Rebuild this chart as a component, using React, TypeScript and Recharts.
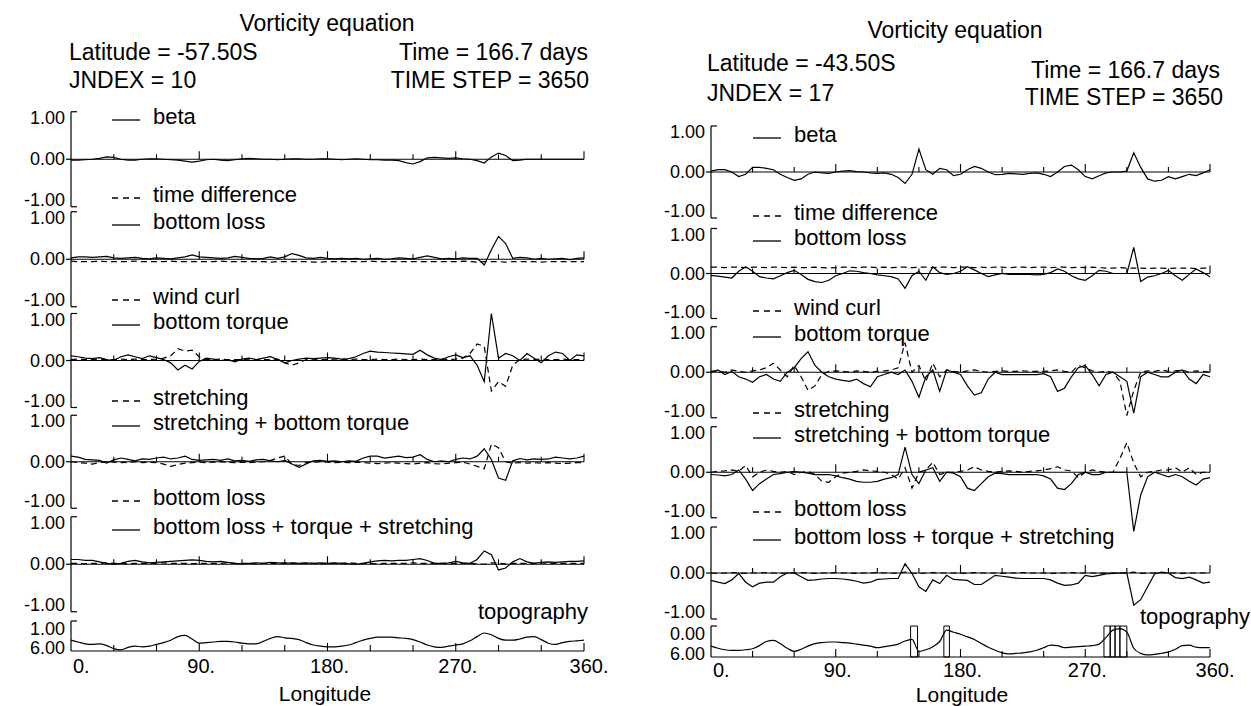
import { ComposedChart, Line, XAxis, YAxis, ReferenceLine, ReferenceArea } from "recharts";

const FONT = '"Liberation Sans", Arial, Helvetica, sans-serif';

// longitude grid, 5 degree steps
const lon = [
  0, 5, 10, 15, 20, 25, 30, 35, 40, 45, 50, 55,
  60, 65, 70, 75, 80, 85, 90, 95, 100, 105, 110, 115,
  120, 125, 130, 135, 140, 145, 150, 155, 160, 165, 170, 175,
  180, 185, 190, 195, 200, 205, 210, 215, 220, 225, 230, 235,
  240, 245, 250, 255, 260, 265, 270, 275, 280, 285, 290, 295,
  300, 305, 310, 315, 320, 325, 330, 335, 340, 345, 350, 355,
  360,
];

const xLabels = ["0.", "90.", "180.", "270.", "360."];
const xTicks = [0, 30, 60, 90, 120, 150, 180, 210, 240, 270, 300, 330, 360];
const yTicks = [-1, 0, 1];

// ---- left panel: latitude -57.50S ----
const betaL = [
  -0.02, -0.02, -0.01, 0, 0.02, 0.05, 0.04, 0, -0.02, -0.02, 0, 0.01,
  0.01, 0, -0.01, -0.02, -0.04, -0.06, -0.04, -0.01, 0, -0.02, -0.03, -0.01,
  0.01, 0.02, 0.01, 0, 0, -0.01, 0, 0.01, 0.01, 0, 0, 0.01,
  0.01, 0, -0.01, 0, 0.01, 0, -0.01, -0.01, -0.02, -0.02, -0.03, -0.07,
  -0.1, -0.05, 0.03, 0.04, 0.03, 0.02, 0.03, 0.01, 0, -0.03, -0.08, 0.05,
  0.13, 0.08, -0.03, -0.02, 0, 0, 0, 0, 0, 0, 0, 0,
  0,
];
const timeDiffL = [
  -0.04, -0.05, -0.05, -0.05, -0.04, -0.05, -0.05, -0.05, -0.05, -0.04, -0.05, -0.05,
  -0.05, -0.05, -0.04, -0.05, -0.05, -0.05, -0.05, -0.05, -0.05, -0.04, -0.05, -0.05,
  -0.05, -0.05, -0.05, -0.05, -0.06, -0.05, -0.05, -0.05, -0.05, -0.05, -0.06, -0.06,
  -0.05, -0.05, -0.05, -0.05, -0.05, -0.05, -0.04, -0.05, -0.05, -0.05, -0.05, -0.05,
  -0.05, -0.05, -0.05, -0.05, -0.05, -0.05, -0.05, -0.04, -0.05, -0.06, -0.05, -0.05,
  -0.05, -0.06, -0.05, -0.05, -0.05, -0.05, -0.06, -0.05, -0.05, -0.05, -0.05, -0.05,
  -0.05,
];
const bottomLossL = [
  0.03, 0.05, 0.05, 0.04, 0.05, 0.06, 0.03, 0.02, 0.03, 0.04, 0.02, 0.01,
  0.03, 0.02, 0.01, 0.03, 0.05, 0.09, 0.05, 0.04, 0.03, 0.02, 0.03, 0.06,
  0.04, 0.02, 0.01, 0.02, 0.05, 0.02, 0.05, 0.12, 0.08, 0.03, 0.02, 0.04,
  0.02, 0.01, 0.02, 0.01, 0.02, 0, 0.01, 0.02, 0, 0.01, 0.03, 0.02,
  0.01, 0.04, 0.07, 0.04, 0.01, 0.02, 0.01, 0.03, 0.02, 0.02, -0.12, 0.2,
  0.48, 0.33, 0.02, 0.04, 0.03, 0, 0.02, 0, 0.01, 0.02, -0.01, 0.02,
  0.03,
];
const windCurlL = [
  0.02, 0.03, 0.02, 0.02, 0.03, 0.02, 0.02, 0.03, 0.02, 0.03, 0.02, 0.02,
  0.03, 0.05, 0.1, 0.25, 0.2, 0.22, 0.08, 0.02, 0.02, 0.03, 0.02, 0.02,
  0.02, 0.03, 0.02, 0.02, 0.02, 0.03, -0.05, -0.1, -0.05, 0.02, 0.03, 0.02,
  0.02, 0.03, 0.02, 0.02, 0.03, 0.02, 0.02, 0.03, 0.02, 0.02, 0.03, 0.02,
  0.02, 0.03, 0.02, 0.02, 0.03, 0.02, 0.03, 0.05, 0.15, 0.35, 0.3, -0.65,
  -0.45, -0.55, -0.1, 0.02, 0.03, 0.02, 0.03, 0.02, 0.02, 0.03, 0.02, 0.02,
  0.02,
];
const bottomTorqueL = [
  0.1, 0.08, 0.05, 0.04, 0.06, 0.02, 0, 0.08, 0.12, 0.08, 0.04, 0.1,
  0.06, 0.02, -0.05, -0.2, -0.1, -0.18, -0.02, 0.05, 0.03, 0, 0.02, -0.03,
  0.03, 0.05, 0.02, 0.05, 0.08, 0.02, -0.05, 0, 0.03, 0.05, 0.04, 0.05,
  0.06, 0.05, 0.03, 0.04, 0.08, 0.15, 0.2, 0.18, 0.17, 0.16, 0.15, 0.14,
  0.13, 0.22, 0.12, 0.05, 0.02, 0.08, 0.12, 0.06, 0.1, -0.1, -0.45, 1.0,
  0.05, 0.15, 0.1, 0, 0.15, 0.05, -0.05, 0.1, 0.18, 0.15, 0, 0.12,
  0.1,
];
const stretchL = [
  0, -0.02, -0.03, -0.05, -0.02, 0, -0.01, -0.02, -0.01, 0, -0.02, -0.01,
  -0.02, -0.05, -0.1, -0.06, -0.03, -0.02, -0.01, -0.02, -0.01, 0, -0.01, -0.02,
  -0.01, -0.02, -0.01, 0, 0.03, 0.08, 0.12, -0.05, -0.08, -0.02, -0.01, 0,
  -0.01, -0.02, -0.01, -0.02, -0.01, -0.02, -0.03, -0.04, -0.03, -0.02, -0.03, -0.04,
  -0.05, -0.03, -0.02, -0.04, -0.05, -0.03, -0.02, -0.01, -0.05, -0.1, -0.15, 0.38,
  0.3, 0, -0.03, -0.02, -0.03, -0.02, -0.03, -0.02, -0.03, -0.04, -0.03, -0.02,
  -0.02,
];
const stretchTorqueL = [
  0.12, 0.1, 0.05, 0.04, 0.03, -0.03, 0.04, 0.08, 0.05, 0.02, 0.06, 0.05,
  0.08, 0.1, 0.06, 0.08, 0.12, 0.05, 0.03, 0.04, 0.05, 0.03, 0.06, 0.02,
  0.03, 0.01, 0.04, 0.05, 0.02, 0, 0.03, -0.05, -0.12, -0.05, 0.02, 0.03,
  0.01, 0.02, 0, 0.02, 0.01, 0.08, 0.12, 0.12, 0.08, 0.1, 0.12, 0.09,
  0.1, 0.15, 0.05, 0, 0.02, 0, 0.05, 0.08, 0.06, 0.12, 0.28, 0.05,
  -0.35, -0.4, 0.02, 0.07, 0.04, 0.06, 0.05, 0.06, 0.1, 0.08, 0.06, 0.08,
  0.12,
];
const lossDashL = [
  0.02, 0.02, 0.01, 0.02, 0.02, 0.03, 0.02, 0.02, 0.01, 0.02, 0.02, 0.02,
  0.02, 0.03, 0.02, 0.02, 0.02, 0.01, 0.02, 0.02, 0.02, 0.02, 0.03, 0.02,
  0.02, 0.02, 0.01, 0.02, 0.02, 0.02, 0.03, 0.02, 0.02, 0.02, 0.02, 0.01,
  0.02, 0.02, 0.02, 0.03, 0.02, 0.02, 0.02, 0.01, 0.02, 0.02, 0.02, 0.02,
  0.03, 0.02, 0.02, 0.02, 0.02, 0.01, 0.02, 0.02, 0.02, 0.01, 0.0, 0.03,
  0.02, 0.01, 0.02, 0.02, 0.02, 0.02, 0.03, 0.02, 0.02, 0.02, 0.02, 0.02,
  0.02,
];
const sumL = [
  0.1, 0.1, 0.08, 0.08, 0.05, 0.02, 0, 0.02, 0.06, 0.08, 0.05, 0.03,
  0.04, 0.05, 0.06, 0.07, 0.08, 0.09, 0.08, 0.06, 0.05, 0.06, 0.04, 0.02,
  0.01, 0.02, 0.03, 0.02, 0.04, 0.03, 0.02, 0.03, 0.02, 0.03, 0.02, 0.03,
  0.02, 0.03, 0.02, 0.01, 0, 0.02, 0.05, 0.07, 0.08, 0.07, 0.08, 0.08,
  0.1, 0.12, 0.08, 0.02, 0.02, 0.03, 0.06, 0.03, 0.02, 0.1, 0.28, 0.2,
  -0.12, -0.08, 0.05, 0.12, 0.05, 0.02, 0.04, 0.05, 0.04, 0.05, 0.06, 0.06,
  0.07,
];
const topoL = [
  4.2, 4.5, 4.8, 4.9, 4.8, 5.1, 5.6, 5.8, 5.4, 5.2, 5.3, 5.2,
  4.9, 4.6, 4.2, 3.6, 3.4, 4.0, 4.7, 4.6, 4.5, 4.4, 4.4, 4.5,
  4.7, 4.8, 4.8, 4.4, 3.9, 3.6, 3.8, 3.9, 4.1, 4.6, 5.0, 5.2,
  5.3, 5.3, 5.2, 5.0, 4.6, 4.2, 3.9, 3.7, 3.7, 3.7, 3.8, 3.9,
  4.1, 4.5, 5.0, 5.3, 5.4, 5.2, 5.0, 4.8, 4.3, 3.6, 3.0, 3.3,
  3.9, 4.2, 4.2, 4.0, 3.7, 3.6, 4.1, 4.7, 4.9, 4.6, 4.4, 4.3,
  4.2,
];

// ---- right panel: latitude -43.50S ----
const betaR = [
  0.02, 0.05, 0.05, 0, -0.1, -0.05, 0.1, 0.1, 0.08, 0.05, -0.05, -0.12,
  -0.18, -0.15, -0.05, 0, -0.02, -0.03, 0, 0.02, 0.03, 0.01, 0, -0.02,
  -0.03, -0.02, -0.05, -0.12, -0.25, -0.05, 0.5, 0.05, -0.05, 0.08, 0.05, -0.08,
  -0.05, 0.05, 0.12, 0.08, 0, -0.06, -0.05, -0.03, -0.04, -0.05, -0.03, -0.02,
  -0.05, -0.1, 0, 0.12, 0.15, 0.05, -0.1, -0.15, -0.08, -0.02, 0, 0,
  0.02, 0.42, 0.1, -0.15, -0.2, -0.18, -0.1, -0.15, -0.1, -0.05, -0.08, -0.02,
  0.05,
];
const timeDiffR = [
  0.14, 0.14, 0.13, 0.14, 0.14, 0.13, 0.14, 0.14, 0.13, 0.14, 0.14, 0.13,
  0.14, 0.13, 0.13, 0.14, 0.13, 0.12, 0.13, 0.14, 0.14, 0.13, 0.14, 0.14,
  0.13, 0.14, 0.13, 0.14, 0.14, 0.13, 0.14, 0.14, 0.13, 0.14, 0.14, 0.13,
  0.14, 0.14, 0.13, 0.14, 0.13, 0.14, 0.14, 0.13, 0.14, 0.14, 0.13, 0.14,
  0.14, 0.13, 0.14, 0.14, 0.13, 0.14, 0.13, 0.14, 0.13, 0.12, 0.12, 0.13,
  0.12, 0.12, 0.12, 0.11, 0.12, 0.12, 0.11, 0.12, 0.12, 0.12, 0.11, 0.12,
  0.12,
];
const bottomLossR = [
  -0.04, -0.06, -0.08, -0.1, 0.05, 0.15, 0.05, -0.07, -0.1, -0.12, -0.05, 0.02,
  0.07, -0.02, -0.13, -0.18, -0.2, -0.15, -0.05, 0, 0.06, 0.05, 0.02, 0,
  -0.03, -0.05, -0.07, -0.12, -0.33, -0.05, 0.05, -0.15, 0.15, 0.02, -0.02, 0,
  0.05, 0.15, 0.08, 0, -0.07, -0.03, 0, -0.02, -0.02, -0.02, -0.02, -0.03,
  -0.02, 0.02, 0.1, 0.05, -0.05, -0.12, -0.15, -0.05, 0.07, 0.05, 0, 0,
  0, 0.58, -0.18, -0.08, -0.05, 0, 0.07, -0.05, -0.15, -0.02, 0.1, 0.02,
  -0.07,
];
const windCurlR = [
  0.02, 0.03, 0, 0.05, 0.02, 0, 0.03, 0.05, 0.1, 0.2, 0.05, -0.1,
  0.15, -0.1, -0.4, -0.3, -0.05, 0.02, 0.03, 0.02, 0, 0.03, 0.02, 0,
  0.02, 0.03, 0.05, 0.1, 0.65, 0, 0.15, -0.2, 0.2, -0.1, 0.05, 0.02,
  0, 0.03, 0.05, 0.02, 0, 0.02, 0.03, 0.02, 0.02, 0.03, 0.02, 0.02,
  0.02, 0.03, 0.05, 0.02, 0, 0.15, 0.1, 0.03, 0, 0.02, 0, -0.2,
  -0.95, -0.4, 0, 0.03, 0.02, 0.05, 0.02, 0.03, 0.05, 0, 0.03, 0.02,
  0,
];
const bottomTorqueR = [
  0, 0.05, -0.05, 0.02, -0.1, -0.15, -0.22, -0.1, -0.05, -0.15, -0.2, 0,
  0.1, 0.3, 0.45, 0.15, 0, -0.1, -0.15, -0.18, -0.2, -0.15, -0.25, -0.32,
  -0.1, -0.05, 0, -0.05, 0.05, -0.2, -0.55, -0.1, 0.05, -0.42, 0.05, 0,
  -0.05, -0.3, -0.5, -0.45, -0.15, 0, -0.05, -0.05, -0.05, -0.05, -0.05, -0.05,
  -0.03, -0.1, -0.42, -0.35, -0.1, 0.1, 0.15, -0.05, -0.3, -0.05, 0, -0.1,
  -0.2, -0.9, -0.1, 0, -0.05, -0.1, -0.1, 0, 0.05, -0.15, -0.25, -0.05,
  -0.1,
];
const stretchR = [
  0, 0.02, 0.03, 0.05, 0.02, 0.15, -0.1, 0, 0.05, 0.02, 0, 0.02,
  -0.05, 0, 0.02, -0.05, -0.2, -0.22, -0.1, -0.02, 0, 0.02, 0.05, 0.03,
  0.02, 0, -0.05, -0.15, 0.1, -0.35, 0, 0.05, 0.22, -0.05, 0, 0,
  0.02, 0.05, 0.12, 0.05, 0.02, 0, 0.02, 0.03, 0.02, 0, 0.02, 0.03,
  0.05, 0.08, 0.12, 0.05, 0.03, -0.12, 0, 0.05, 0.02, 0, 0, 0.3,
  0.65, 0.2, -0.1, 0, 0.02, 0.05, 0.05, 0.1, 0, 0.1, -0.05, 0,
  0,
];
const stretchTorqueR = [
  -0.05, -0.06, -0.08, -0.05, 0.05, -0.15, -0.4, -0.25, -0.15, -0.05, -0.03, 0,
  0.02, 0, -0.02, -0.05, -0.05, -0.05, -0.08, -0.12, -0.15, -0.2, -0.22, -0.22,
  -0.2, -0.15, -0.12, -0.05, 0.55, -0.05, -0.25, 0.05, 0.1, -0.2, 0, -0.02,
  -0.1, -0.35, -0.4, -0.25, -0.1, -0.02, -0.03, -0.05, -0.05, -0.05, -0.05, -0.05,
  -0.08, -0.15, -0.35, -0.38, -0.25, -0.05, 0, -0.05, -0.05, 0, 0, 0,
  0, -1.3, -0.5, -0.1, 0, -0.05, -0.1, -0.05, -0.1, -0.2, -0.28, -0.15,
  -0.12,
];
const lossDashR = [
  0, -0.01, 0, 0.01, 0, -0.01, 0, 0, 0.01, 0, -0.01, 0,
  0, 0.01, 0, -0.01, 0, 0, 0.01, 0, 0, -0.01, 0, 0,
  0.01, 0, 0, -0.01, 0.02, 0, -0.01, 0, 0.01, 0, 0, 0,
  -0.01, 0, 0.01, 0, 0, 0, -0.01, 0, 0, 0.01, 0, 0,
  0, -0.01, 0, 0, 0.01, 0, 0, 0, -0.01, 0, 0, 0,
  0, 0.02, -0.01, 0, 0, 0.01, 0, 0, -0.01, 0, 0, 0,
  0,
];
const sumR = [
  -0.16, -0.2, -0.23, -0.15, -0.01, -0.2, -0.3, -0.22, -0.2, -0.2, -0.08, 0,
  0, -0.08, -0.16, -0.15, -0.13, -0.12, -0.12, -0.13, -0.15, -0.18, -0.22, -0.2,
  -0.14, -0.13, -0.12, -0.12, 0.2, -0.01, -0.3, -0.4, -0.15, -0.23, -0.05, -0.14,
  -0.15, -0.16, -0.25, -0.25, -0.15, -0.05, -0.07, -0.09, -0.11, -0.12, -0.12, -0.12,
  -0.12, -0.15, -0.22, -0.27, -0.26, -0.22, -0.05, -0.08, -0.05, -0.02, -0.01, 0,
  0, -0.7, -0.58, -0.3, -0.02, 0.02, 0, -0.1, -0.12, -0.09, -0.15, -0.22,
  -0.2,
];
const topoR = [
  3.9, 4.3, 4.6, 4.7, 4.7, 4.6, 4.4, 3.8, 3.0, 2.8, 3.4, 4.3,
  4.9, 4.5, 3.9, 3.4, 3.2, 3.1, 3.1, 3.2, 3.3, 3.5, 3.7, 3.9,
  4.2, 4.0, 3.8, 3.5, 2.9, 2.6, 4.9, 4.6, 4.0, 3.0, 0.8, 1.2,
  1.6, 2.1, 2.6, 3.4, 4.1, 4.7, 5.2, 5.4, 5.3, 5.2, 5.0, 4.7,
  4.2, 3.7, 3.8, 4.2, 4.1, 4.0, 3.9, 3.8, 3.5, 2.2, 0.8, 0.5,
  1.2, 4.3, 5.3, 5.6, 5.5, 5.3, 5.0, 4.5, 3.8, 3.7, 4.1, 4.2,
  4.2,
];
// ridge cells drawn as boxes in the right topography strip (longitude from, to)
const ridgeR: [number, number][] = [
  [144, 149], [168, 172], [283.5, 288], [288, 291.5], [291.5, 295], [295, 300],
];

const D = 1.5;
const PAD_R = 34;

function Txt({ x, y, a = "start", s = 22, children }: any) {
  const tx = a === "middle" ? "-50%" : a === "end" ? "-100%" : "0";
  return (
    <div
      style={{
        position: "absolute",
        left: x,
        top: y,
        transform: `translate(${tx}, -50%)`,
        fontSize: s,
        lineHeight: 1,
        whiteSpace: "nowrap",
        fontFamily: FONT,
        color: "#000",
      }}
    >
      {children}
    </div>
  );
}

function Leg({ x, y, dashed, text }: any) {
  return (
    <>
      <svg style={{ position: "absolute", left: x, top: y + 1 }} width={30} height={4}>
        <line x1={0} y1={2} x2={28} y2={2} stroke="#000" strokeWidth={1.3} strokeDasharray={dashed ? "6 5" : undefined} />
      </svg>
      <Txt x={x + 41} y={y}>{text}</Txt>
    </>
  );
}

function Sub({ left, x0, x1, top, bottom, solid, dashed }: any) {
  const ppu = (bottom - top) / 2;
  const ppx = (x1 - x0) / 360;
  const h = 2 * D * ppu;
  const chartTop = top - (D - 1) * ppu;
  const axisX = x0 - left;
  const data = lon.map((l, i) => ({ lon: l, s: solid[i], d: dashed ? dashed[i] : null }));
  const bk = 6 / ppx;
  const tick = (p: any) => {
    const v = p.payload.value;
    const dy = v === 1 ? 6 : v === -1 ? -7 : 0;
    return (
      <g>
        <text x={axisX - 6} y={p.y + dy} textAnchor="end" dominantBaseline="central" fontSize={18} fontFamily={FONT} fill="#000">
          {v.toFixed(2)}
        </text>
        {v === 0 && <line x1={axisX - 5} x2={axisX} y1={p.y} y2={p.y} stroke="#000" strokeWidth={1.2} />}
      </g>
    );
  };
  return (
    <div style={{ position: "absolute", left, top: chartTop }}>
      <ComposedChart width={x1 - left + PAD_R} height={h} data={data} margin={{ top: 0, right: PAD_R, bottom: 0, left: 0 }}>
        <XAxis type="number" dataKey="lon" domain={[0, 360]} hide />
        <YAxis type="number" domain={[-D, D]} ticks={yTicks} interval={0} width={axisX} axisLine={false} tickLine={false} tick={tick} />
        <ReferenceLine y={0} stroke="#000" strokeWidth={1.2} />
        <ReferenceLine segment={[{ x: 0, y: -1 }, { x: 0, y: 1 }]} stroke="#000" strokeWidth={1.2} />
        <ReferenceLine segment={[{ x: 0, y: 1 }, { x: bk, y: 1 }]} stroke="#000" strokeWidth={1.2} />
        <ReferenceLine segment={[{ x: 0, y: -1 }, { x: bk, y: -1 }]} stroke="#000" strokeWidth={1.2} />
        {xTicks.slice(1).map((t) => (
          <ReferenceLine
            key={t}
            segment={[{ x: t, y: 0 }, { x: t, y: (t % 90 === 0 ? 8 : 5) / ppu }]}
            stroke="#000"
            strokeWidth={1.1}
          />
        ))}
        {dashed && (
          <Line dataKey="d" type="linear" stroke="#000" strokeWidth={1.2} strokeDasharray="6 4" dot={false} isAnimationActive={false} />
        )}
        <Line dataKey="s" type="linear" stroke="#000" strokeWidth={1.2} dot={false} isAnimationActive={false} />
      </ComposedChart>
    </div>
  );
}

function Topo({ left, x0, x1, top, bottom, lo, values, ridges, labY }: any) {
  const plotH = bottom - top;
  const padT = 12;
  const axisH = 60;
  const axisX = x0 - left;
  const data = lon.map((l, i) => ({ lon: l, t: values[i] }));
  const yTick = (p: any) => {
    const v = p.payload.value;
    const isTop = v === lo;
    return (
      <g>
        <text x={axisX - 6} y={p.y + (isTop ? 8 : -3)} textAnchor="end" dominantBaseline="central" fontSize={18} fontFamily={FONT} fill="#000">
          {v.toFixed(2)}
        </text>
        {isTop && <line x1={axisX} x2={axisX + 6} y1={p.y} y2={p.y} stroke="#000" strokeWidth={1.2} />}
      </g>
    );
  };
  const axisY = padT + plotH;
  const xTick = (p: any) => {
    const v = p.payload.value;
    const major = v % 90 === 0;
    const lab = major ? xLabels[v / 90] : null;
    const dx = v === 0 ? 2 : v === 360 ? 5 : 2;
    return (
      <g>
        {v > 0 && <line x1={p.x} x2={p.x} y1={axisY} y2={axisY - (major ? 8 : 6)} stroke="#000" strokeWidth={1.1} />}
        {lab && (
          <text x={p.x + dx} y={axisY + labY} textAnchor={v === 0 ? "start" : "middle"} dominantBaseline="central" fontSize={20} fontFamily={FONT} fill="#000">
            {lab}
          </text>
        )}
      </g>
    );
  };
  return (
    <div style={{ position: "absolute", left, top: top - padT }}>
      <ComposedChart width={x1 - left + PAD_R} height={padT + plotH + axisH} data={data} margin={{ top: padT, right: PAD_R, bottom: 0, left: 0 }}>
        <XAxis
          type="number"
          dataKey="lon"
          domain={[0, 360]}
          ticks={xTicks}
          interval={0}
          height={axisH}
          tickLine={false}
          axisLine={{ stroke: "#000", strokeWidth: 1.2 }}
          tick={xTick}
        />
        <YAxis
          type="number"
          domain={[lo, 6]}
          reversed
          ticks={[lo, 6]}
          interval={0}
          width={axisX}
          tickLine={false}
          axisLine={{ stroke: "#000", strokeWidth: 1.2 }}
          tick={yTick}
        />
        {ridges.map((r: [number, number], i: number) => (
          <ReferenceArea key={i} x1={r[0]} x2={r[1]} y1={lo} y2={6} fill="none" stroke="#000" strokeWidth={1} />
        ))}
        <Line dataKey="t" type="monotone" stroke="#000" strokeWidth={1.2} dot={false} isAnimationActive={false} />
      </ComposedChart>
    </div>
  );
}

const L = { left: 0, x0: 71, x1: 584 };
const R = { left: 640, x0: 711, x1: 1210 };

export default function App() {
  return (
    <div style={{ position: "absolute", left: 0, top: 0, width: 1251, height: 706, background: "#fff", overflow: "hidden" }}>
      {/* left panel */}
      <Txt x={327} y={23} a="middle" s={23}>Vorticity equation</Txt>
      <Txt x={69} y={52} s={23}>Latitude = -57.50S</Txt>
      <Txt x={69} y={80} s={23}>JNDEX = 10</Txt>
      <Txt x={588} y={52} a="end" s={23}>Time = 166.7 days</Txt>
      <Txt x={589} y={80} a="end" s={23}>TIME STEP = 3650</Txt>

      <Sub {...L} top={112} bottom={207} solid={betaL} />
      <Sub {...L} top={212} bottom={307} solid={bottomLossL} dashed={timeDiffL} />
      <Sub {...L} top={313} bottom={407} solid={bottomTorqueL} dashed={windCurlL} />
      <Sub {...L} top={415} bottom={508} solid={stretchTorqueL} dashed={stretchL} />
      <Sub {...L} top={517} bottom={612} solid={sumL} dashed={lossDashL} />
      <Topo {...L} top={621} bottom={651} lo={1} values={topoL} ridges={[]} labY={15} />

      <Leg x={112} y={117} text="beta" />
      <Leg x={112} y={195} dashed text="time difference" />
      <Leg x={112} y={222} text="bottom loss" />
      <Leg x={112} y={297} dashed text="wind curl" />
      <Leg x={112} y={322} text="bottom torque" />
      <Leg x={112} y={398} dashed text="stretching" />
      <Leg x={112} y={423} text="stretching + bottom torque" />
      <Leg x={112} y={498} dashed text="bottom loss" />
      <Leg x={112} y={527} text="bottom loss + torque + stretching" />
      <Txt x={588} y={612} a="end">topography</Txt>
      <Txt x={325} y={693} a="middle" s={21}>Longitude</Txt>

      {/* right panel */}
      <Txt x={955} y={30} a="middle" s={23}>Vorticity equation</Txt>
      <Txt x={707} y={63} s={23}>Latitude = -43.50S</Txt>
      <Txt x={707} y={93} s={23}>JNDEX = 17</Txt>
      <Txt x={1220} y={70} a="end" s={23}>Time = 166.7 days</Txt>
      <Txt x={1223} y={97} a="end" s={23}>TIME STEP = 3650</Txt>

      <Sub {...R} top={126} bottom={218} solid={betaR} />
      <Sub {...R} top={228} bottom={318} solid={bottomLossR} dashed={timeDiffR} />
      <Sub {...R} top={327} bottom={418} solid={bottomTorqueR} dashed={windCurlR} />
      <Sub {...R} top={427} bottom={518} solid={stretchTorqueR} dashed={stretchR} />
      <Sub {...R} top={527} bottom={619} solid={sumR} dashed={lossDashR} />
      <Topo {...R} top={626} bottom={657} lo={0} values={topoR} ridges={ridgeR} labY={13} />

      <Leg x={753} y={135} text="beta" />
      <Leg x={753} y={213} dashed text="time difference" />
      <Leg x={753} y={238} text="bottom loss" />
      <Leg x={753} y={308} dashed text="wind curl" />
      <Leg x={753} y={334} text="bottom torque" />
      <Leg x={753} y={410} dashed text="stretching" />
      <Leg x={753} y={435} text="stretching + bottom torque" />
      <Leg x={753} y={509} dashed text="bottom loss" />
      <Leg x={753} y={537} text="bottom loss + torque + stretching" />
      <Txt x={1250} y={617} a="end">topography</Txt>
      <Txt x={962} y={694} a="middle" s={21}>Longitude</Txt>
    </div>
  );
}
